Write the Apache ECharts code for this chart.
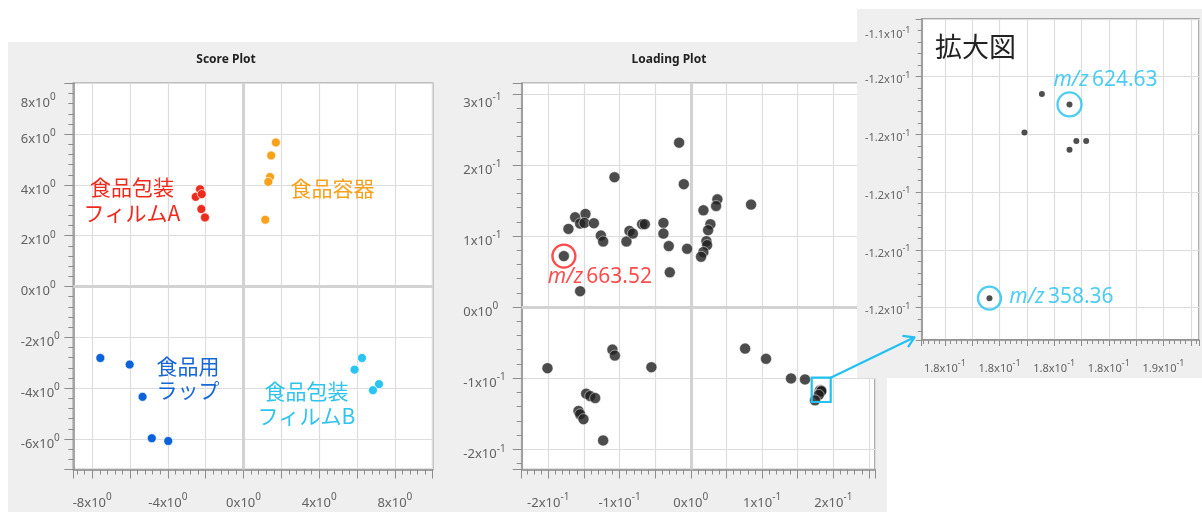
<!DOCTYPE html>
<html>
<head>
<meta charset="utf-8">
<script src="https://cdn.jsdelivr.net/npm/echarts@6/dist/echarts.min.js"></script>
<style>
  html, body { margin: 0; padding: 0; background: #ffffff; }
  #chart { width: 1202px; height: 512px; }
</style>
</head>
<body>
<div id="chart"></div>
<script>
// ---- Score plot: PC scores per sample group ----
const filmAX = [-2.30, -2.53, -2.21, -2.23, -2.04];
const filmAY = [3.83, 3.53, 3.64, 3.05, 2.72];
const containerX = [1.71, 1.46, 1.40, 1.31, 1.15];
const containerY = [5.67, 5.16, 4.31, 4.12, 2.63];
const wrapX = [-7.57, -6.02, -5.34, -4.85, -3.98];
const wrapY = [-2.81, -3.07, -4.34, -5.97, -6.08];
const filmBX = [6.26, 5.87, 7.16, 6.84];
const filmBY = [-2.81, -3.27, -3.84, -4.08];

// ---- Loading plot: loadings per m/z ----
const loadX = [
  -0.0164, -0.1071, -0.0098, 0.0846, 0.0373, 0.0355, 0.0177, -0.1478, -0.1623, -0.1717,
  -0.1553, -0.1492, -0.1360, -0.1262, -0.1230, -0.0903, -0.0861, -0.0813, -0.0683, -0.0645,
  -0.0384, -0.0384, -0.0309, -0.0052, -0.0295, 0.0275, 0.0243, 0.0219, 0.0229, 0.0177,
  0.0144, -0.1781, -0.1553, -0.2011, -0.1100, -0.1066, -0.0553, -0.1468, -0.1412, -0.1342,
  -0.1576, -0.1553, -0.1506, -0.1230, 0.0762, 0.1056, 0.1407, 0.1603,
  0.18155, 0.18256, 0.18091, 0.18256, 0.18281, 0.18317, 0.17963, 0.1743
];
const loadY = [
  0.2315, 0.1829, 0.1731, 0.1443, 0.1517, 0.1423, 0.1363, 0.1311, 0.1265, 0.1101,
  0.1176, 0.1185, 0.1181, 0.1008, 0.0924, 0.0924, 0.1073, 0.1036, 0.1167, 0.1167,
  0.1185, 0.1036, 0.0859, 0.0821, 0.0490, 0.1167, 0.1083, 0.0929, 0.0873, 0.0775,
  0.0709, 0.0718, 0.0224, -0.0860, -0.0598, -0.0682, -0.0846, -0.1218, -0.1252, -0.1280,
  -0.1462, -0.1508, -0.1578, -0.1877, -0.0584, -0.0728, -0.1004, -0.1018,
  -0.11660, -0.11696, -0.11793, -0.11853, -0.11823, -0.11823, -0.12367, -0.1312
];
// highlighted peaks (index into the loading arrays)
const peakMainIdx = 31;   // m/z 663.52
const peakZoomA = 49;     // m/z 624.63
const peakZoomB = 54;     // m/z 358.36
const peakLabels = ['663.52', '624.63', '358.36'];

const LATIN = '"Noto Sans", "Open Sans", sans-serif';
const JP = '"Noto Sans CJK JP", "Noto Sans", sans-serif';
const AXIS_GRAY = '#8d8d8d';
const LABEL_GRAY = '#626262';
const CYAN = '#22c1ef';
const RED = '#ff1f1f';

const zip = (xs, ys) => xs.map((x, i) => [x, ys[i]]);
const onStep = (v, step) => { const q = v / step; return Math.abs(q - Math.round(q)) < 1e-6; };
const near = (a, b) => b != null && Math.abs(a - b) < 1e-9;
// "m x10^e" as rich text; an empty spacer line nudges the label below its tick
const sci = (m, e, top) => (top ? '{et| }' : '{e| }') + '\n{b|' + m + 'x10}{s|' + e + '}';
const sciX = (m, e) => '{b|' + m + 'x10}{s|' + e + '}';

function labelRich(base, sup, lift, liftTop) {
  return {
    b: { fontSize: base, color: LABEL_GRAY, fontFamily: LATIN, lineHeight: base + 2, verticalAlign: 'bottom' },
    s: { fontSize: sup, color: LABEL_GRAY, fontFamily: LATIN, lineHeight: sup + 1, padding: [0, 0, base - 3, 0] },
    e: { fontSize: 1, lineHeight: lift || 0.01 },
    et: { fontSize: 1, lineHeight: liftTop || lift || 0.01 }
  };
}

function axis(o) {
  return {
    type: 'value', gridIndex: o.grid, min: o.min, max: o.max,
    splitNumber: o.split, minInterval: o.step, maxInterval: o.step, z: o.z || 0,
    axisLine: { show: true, onZero: false, lineStyle: { color: AXIS_GRAY, width: 1.5 } },
    axisTick: { show: true, inside: false, length: o.tick || 9, lineStyle: { color: AXIS_GRAY, width: 1 } },
    minorTick: { show: true, splitNumber: 5, length: o.minor || 5, lineStyle: { color: AXIS_GRAY, width: 1 } },
    splitLine: { show: true, lineStyle: { color: '#dddddd', width: 1.2 } },
    axisLabel: Object.assign({
      margin: o.margin, formatter: o.fmt, rich: labelRich(o.fs, o.sfs, o.lift, o.liftTop)
    }, o.labelExtra || {})
  };
}

const scoreXFmt = v => onStep(v, 4) ? sciX(Math.round(v), 0) : '';
const scoreYFmt = v => onStep(v, 2) ? sci(Math.round(v), 0, near(v, 8)) : '';
const loadXFmt = v => {
  if (!onStep(v, 0.1)) return '';
  return Math.abs(v) < 1e-9 ? sciX(0, 0) : sciX(Math.round(v * 10), -1);
};
const loadYFmt = v => {
  if (!onStep(v, 0.1)) return '';
  return Math.abs(v) < 1e-9 ? sci(0, 0) : sci(Math.round(v * 10), -1, near(v, 0.3));
};
const zoomXFmt = v => onStep(v, 0.002) ? sciX((v * 10).toFixed(1), -1) : '';
const zoomYFmt = v => onStep(v, 0.002) ? sci((v * 10).toFixed(1), -1, near(v, -0.114)) : '';

const zeroLines = {
  silent: true, symbol: 'none', z: 1, animation: false,
  label: { show: false },
  lineStyle: { color: '#d2d2d2', width: 3, type: 'solid' },
  data: [{ xAxis: 0 }, { yAxis: 0 }]
};

function scoreSeries(name, xs, ys, color, withZero) {
  const s = {
    name, type: 'scatter', xAxisIndex: 0, yAxisIndex: 0, z: 2,
    data: zip(xs, ys), symbolSize: 9,
    itemStyle: { color, borderColor: 'rgba(255,255,255,0.7)', borderWidth: 1, opacity: 1 }
  };
  if (withZero) s.markLine = zeroLines;
  return s;
}

function ring(name, idx, color, size, xi, label, offset, z) {
  return {
    name, type: 'scatter', xAxisIndex: xi, yAxisIndex: xi, z,
    data: [[loadX[idx], loadY[idx]]], symbol: 'circle', symbolSize: size,
    itemStyle: { color: 'rgba(0,0,0,0)', borderColor: color, borderWidth: 2.3 },
    label: {
      show: true, position: 'inside', offset,
      formatter: '{i|m/z} {n|' + label + '}',
      rich: {
        i: { fontSize: 21, fontStyle: 'italic', color, fontFamily: LATIN },
        n: { fontSize: 21, color, fontFamily: LATIN }
      }
    }
  };
}

const chart = echarts.init(document.getElementById('chart'), null, { renderer: 'canvas' });

const option = {
  animation: false,
  backgroundColor: '#ffffff',
  grid: [
    { left: 73.3, top: 83.3, right: 769.3, bottom: 42, show: true, backgroundColor: '#ffffff',
      borderColor: AXIS_GRAY, borderWidth: 1.5, z: -5 },
    { left: 521.7, top: 83.3, right: 327, bottom: 41.3, show: true, backgroundColor: '#ffffff',
      borderColor: AXIS_GRAY, borderWidth: 1.5, z: -5 },
    { left: 921.7, top: 19, width: 300, bottom: 172, show: true, backgroundColor: '#ffffff',
      borderColor: AXIS_GRAY, borderWidth: 1.5, z: 21 }
  ],
  xAxis: [
    axis({ grid: 0, min: -9, max: 10, split: 9, step: 2, margin: 25, fmt: scoreXFmt, fs: 13, sfs: 10 }),
    axis({ grid: 1, min: -0.2373, max: 0.2585, split: 10, step: 0.05, margin: 25, fmt: loadXFmt, fs: 13, sfs: 10 }),
    axis({ grid: 2, min: 0.17715, max: 0.18730, split: 10, step: 0.001, margin: 21, fmt: zoomXFmt,
      fs: 11, sfs: 9, z: 22, tick: 6, minor: 4 })
  ],
  yAxis: [
    axis({ grid: 0, min: -7.2, max: 8, split: 8, step: 2, margin: 52.6, fmt: scoreYFmt, fs: 13, sfs: 10,
      lift: 8, liftTop: 37, labelExtra: { align: 'left' } }),
    axis({ grid: 1, min: -0.2286, max: 0.3151, split: 5, step: 0.1, margin: 58.4, fmt: loadYFmt, fs: 13, sfs: 10,
      lift: 9, liftTop: 16, labelExtra: { align: 'left' } }),
    axis({ grid: 2, min: -0.12512, max: -0.114, split: 5, step: 0.002, margin: 56.7, fmt: zoomYFmt,
      fs: 11, sfs: 9, z: 22, tick: 6, minor: 4, lift: 5, liftTop: 30, labelExtra: { align: 'left' } })
  ],
  graphic: [
    // panel backgrounds
    { type: 'rect', z: -10, silent: true, shape: { x: 8, y: 42, width: 879, height: 470 }, style: { fill: '#efefef' } },
    { type: 'rect', z: 20, silent: true, shape: { x: 857, y: 9, width: 350, height: 369 }, style: { fill: '#efefef' } },
    // panel titles
    { type: 'text', z: 10, style: { text: 'Score Plot', x: 226, y: 60, align: 'center', verticalAlign: 'middle',
      font: 'bold 12px ' + LATIN, fill: '#222222' } },
    { type: 'text', z: 10, style: { text: 'Loading Plot', x: 669, y: 60, align: 'center', verticalAlign: 'middle',
      font: 'bold 12px ' + LATIN, fill: '#222222' } },
    // group names on the score plot
    { type: 'text', z: 10, style: { text: '食品包装\nフィルムA', x: 132, y: 200, align: 'center', verticalAlign: 'middle',
      fontSize: 21, fontFamily: JP, lineHeight: 26, fill: '#ef2a1d' } },
    { type: 'text', z: 10, style: { text: '食品容器', x: 332.5, y: 188.5, align: 'center', verticalAlign: 'middle',
      fontSize: 21, fontFamily: JP, fill: '#f7a11e' } },
    { type: 'text', z: 10, style: { text: '食品用\nラップ', x: 156.5, y: 378, align: 'left', verticalAlign: 'middle',
      fontSize: 21, fontFamily: JP, lineHeight: 24, fill: '#1766d6' } },
    { type: 'text', z: 10, style: { text: '食品包装\nフィルムB', x: 306.5, y: 404, align: 'center', verticalAlign: 'middle',
      fontSize: 21, fontFamily: JP, lineHeight: 25, fill: '#2fc3ee' } },
    // zoom window and pointer
    { type: 'rect', z: 6, silent: true, shape: { x: 811.7, y: 377.7, width: 19, height: 24.3 },
      style: { fill: 'none', stroke: CYAN, lineWidth: 2.2 } },
    { type: 'line', z: 30, silent: true, shape: { x1: 830.7, y1: 377.7, x2: 914.5, y2: 337.3 },
      style: { stroke: CYAN, lineWidth: 2.2 } },
    { type: 'polyline', z: 30, silent: true, shape: { points: [[902.5, 335.8], [914.5, 337.3], [908, 347.2]] },
      style: { fill: 'none', stroke: CYAN, lineWidth: 2.2, lineJoin: 'round' } },
    { type: 'text', z: 30, style: { text: '拡大図', x: 935, y: 47, align: 'left', verticalAlign: 'middle',
      fontSize: 27, fontFamily: JP, fill: '#222222' } }
  ],
  series: [
    scoreSeries('食品包装フィルムA', filmAX, filmAY, '#ec2b1e', true),
    scoreSeries('食品容器', containerX, containerY, '#f8a21c', false),
    scoreSeries('食品用ラップ', wrapX, wrapY, '#0c62d8', false),
    scoreSeries('食品包装フィルムB', filmBX, filmBY, '#2bc4f0', false),
    {
      name: 'loadings', type: 'scatter', xAxisIndex: 1, yAxisIndex: 1, z: 2,
      data: zip(loadX, loadY), symbolSize: 11,
      itemStyle: { color: '#1f1f1f', borderColor: 'rgba(255,255,255,0.6)', borderWidth: 1 },
      markLine: zeroLines
    },
    ring('m/z ' + peakLabels[0], peakMainIdx, RED, 23, 1, peakLabels[0], [36, 21], 4),
    {
      name: 'loadings zoom', type: 'scatter', xAxisIndex: 2, yAxisIndex: 2, z: 23, clip: true,
      data: zip(loadX, loadY), symbolSize: 6,
      itemStyle: { color: '#222222' }
    },
    ring('m/z ' + peakLabels[1], peakZoomA, CYAN, 24, 2, peakLabels[1], [36, -24], 24),
    ring('m/z ' + peakLabels[2], peakZoomB, CYAN, 23, 2, peakLabels[2], [72, -1.5], 24)
  ]
};

chart.setOption(option);
</script>
</body>
</html>
